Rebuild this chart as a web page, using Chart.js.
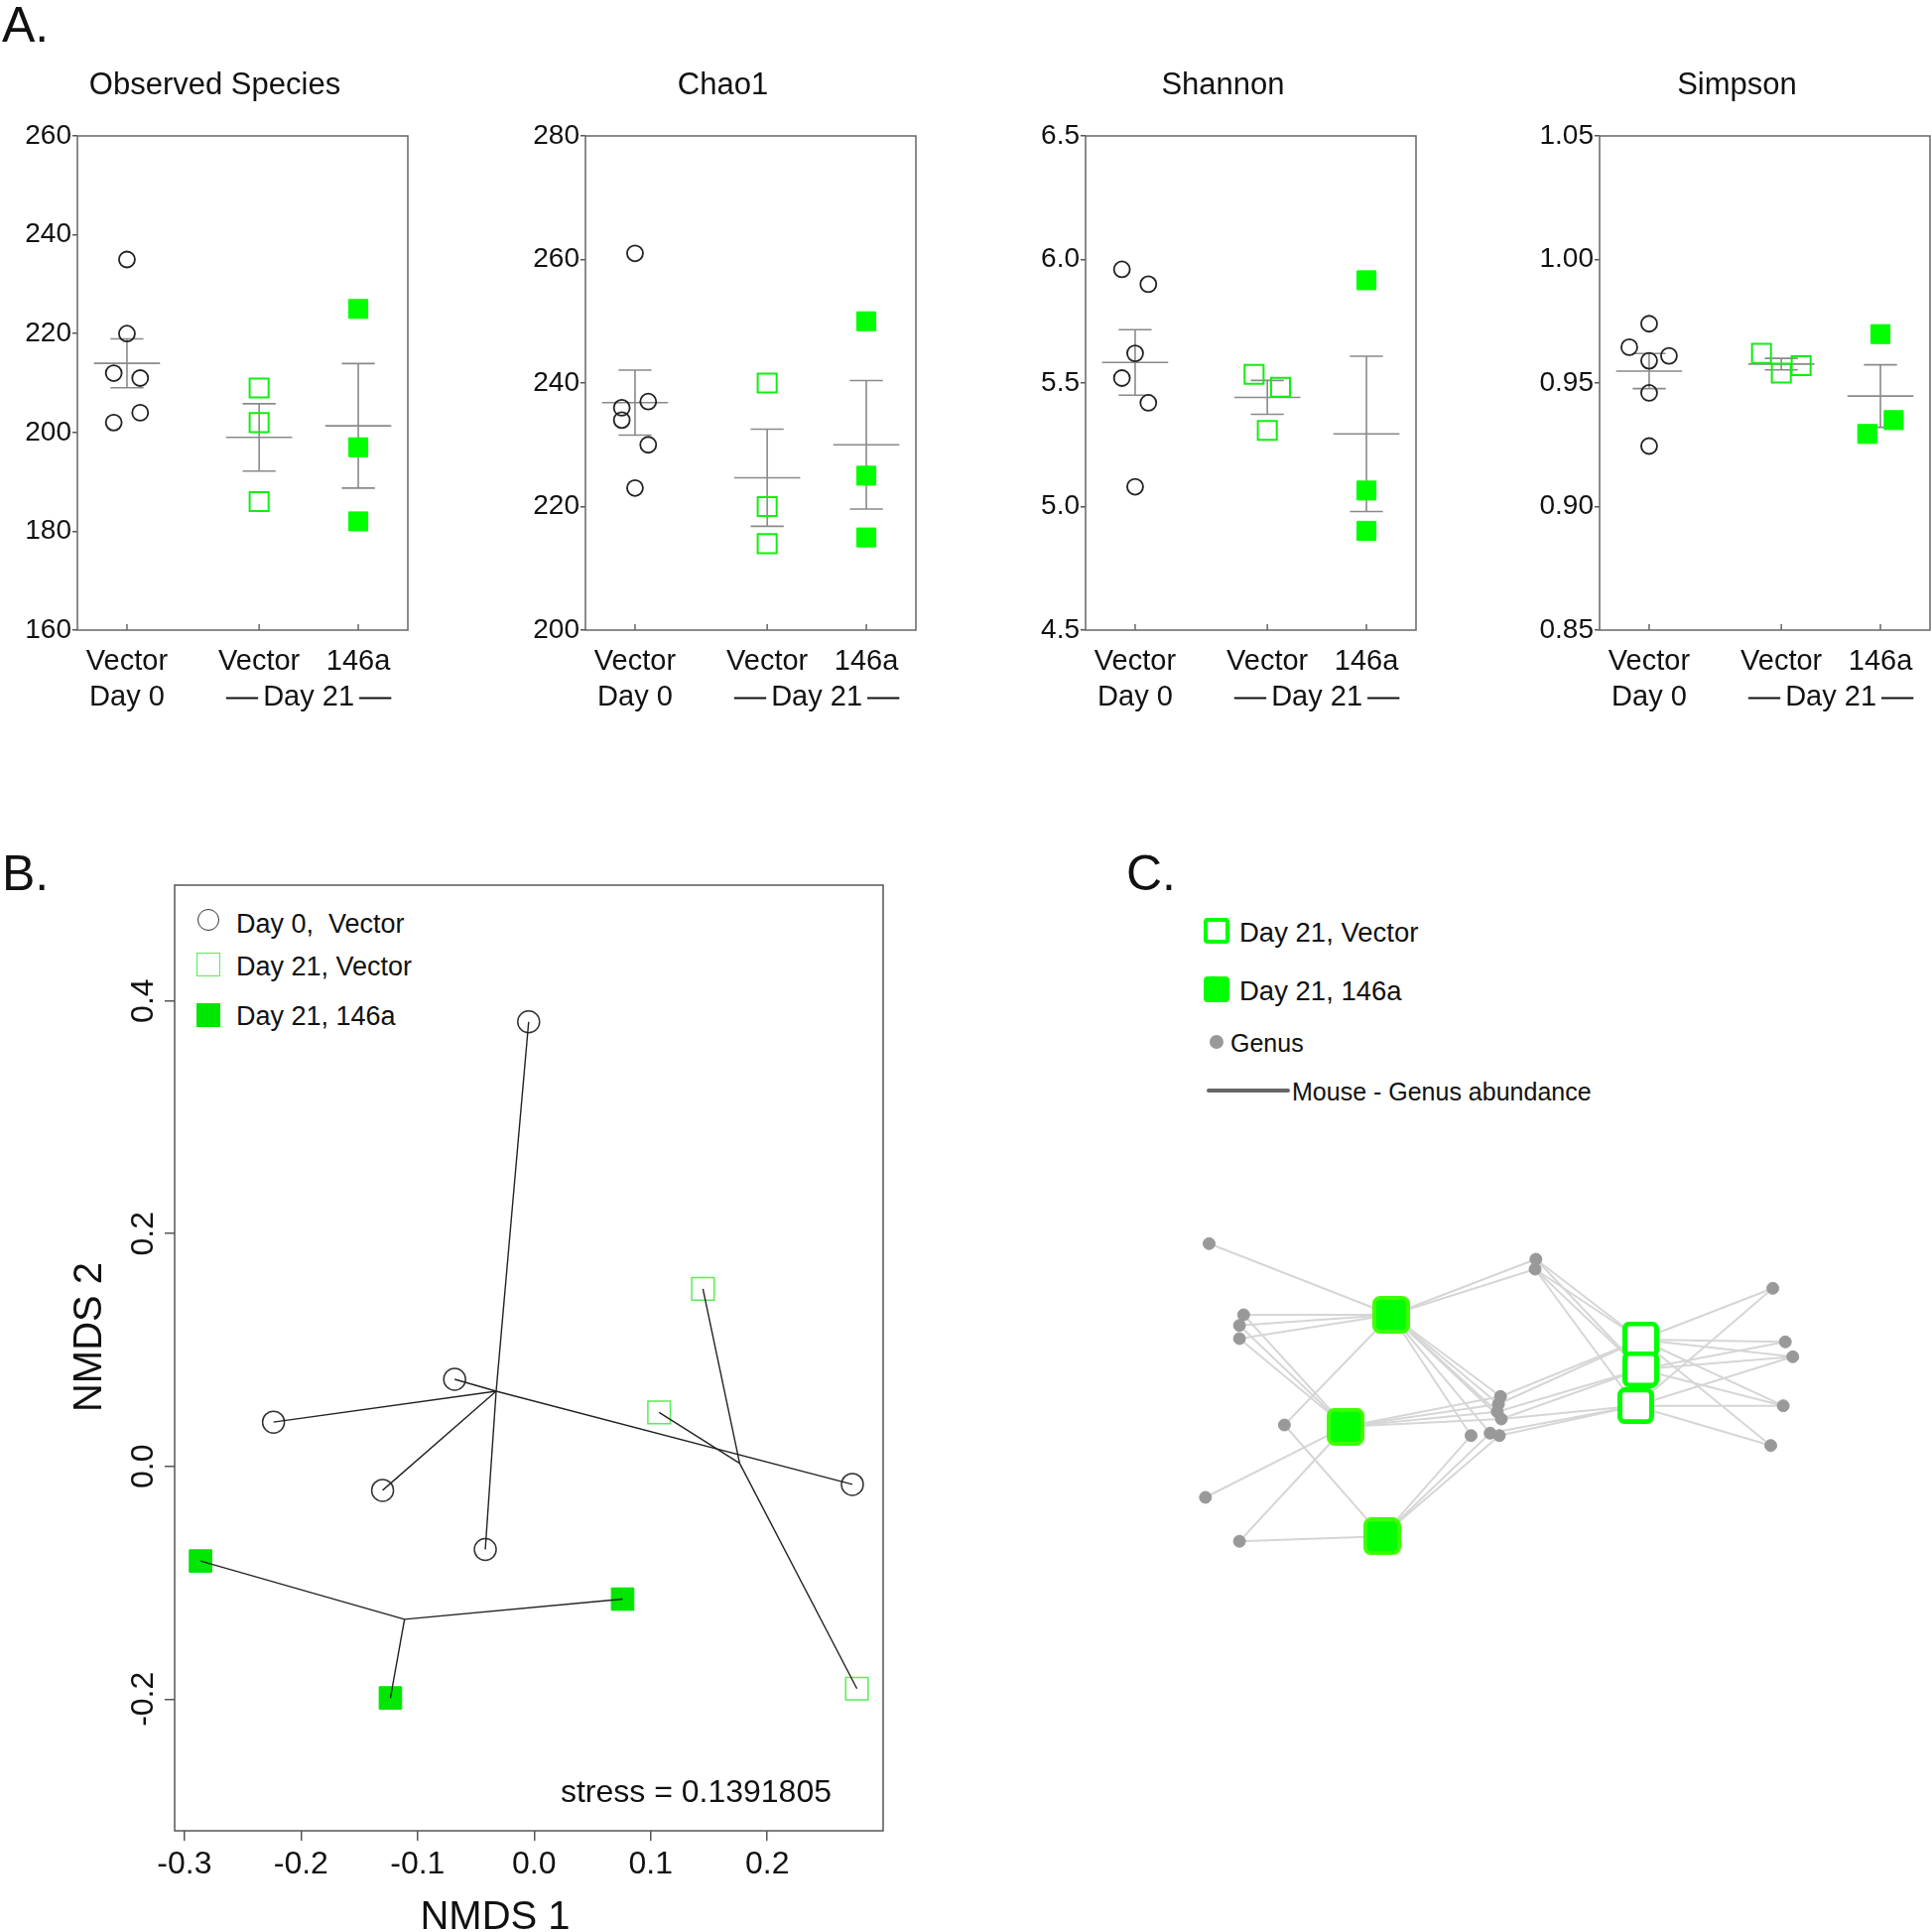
<!DOCTYPE html>
<html lang="en">
<head>
<meta charset="utf-8">
<title>Alpha diversity, NMDS and network</title>
<script src="https://cdn.jsdelivr.net/npm/chart.js@4.4.1/dist/chart.umd.min.js"></script>
<style>
  html, body { margin: 0; padding: 0; background: #fff; }
  #page { position: relative; width: 1946px; height: 1947px; overflow: hidden;
          font-family: "Liberation Sans", Arial, Helvetica, sans-serif; color: #111; }
  #page canvas { position: absolute; }
  .lbl { position: absolute; font-size: 50px; line-height: 50px; }
  .row { position: absolute; height: 40px; line-height: 40px; white-space: pre; }
  .sym { position: absolute; box-sizing: border-box; }
</style>
</head>
<body>
<div id="page">
  <div class="lbl" style="left:2px; top:0px">A.</div>
  <div class="lbl" style="left:2px; top:855px">B.</div>
  <div class="lbl" style="left:1135px; top:855px">C.</div>

  <!-- legend B -->
  <div class="sym" style="left:199px;top:916px;width:22px;height:22px;border:1.5px solid #333;border-radius:50%"></div>
  <div class="row" style="left:238px;top:911px;font-size:27px">Day 0,  Vector</div>
  <div class="sym" style="left:198px;top:960px;width:24px;height:24px;border:1.5px solid #55ee55"></div>
  <div class="row" style="left:238px;top:954px;font-size:27px">Day 21, Vector</div>
  <div class="sym" style="left:198px;top:1011px;width:24px;height:24px;background:#00e600"></div>
  <div class="row" style="left:238px;top:1004px;font-size:27px">Day 21, 146a</div>

  <!-- legend C -->
  <div class="sym" style="left:1213px;top:925px;width:26px;height:26px;border:4.5px solid #00ff00;border-radius:4px"></div>
  <div class="row" style="left:1249px;top:920px;font-size:27.5px">Day 21, Vector</div>
  <div class="sym" style="left:1213px;top:984px;width:26px;height:26px;background:#00ff00;border-radius:4px"></div>
  <div class="row" style="left:1249px;top:979px;font-size:27.5px">Day 21, 146a</div>
  <div class="sym" style="left:1219px;top:1043px;width:14px;height:14px;background:#999;border-radius:50%"></div>
  <div class="row" style="left:1240px;top:1031px;font-size:25px">Genus</div>
  <div class="sym" style="left:1216px;top:1097px;width:84px;height:4px;background:#666;border-radius:2px"></div>
  <div class="row" style="left:1302px;top:1080px;font-size:25px">Mouse - Genus abundance</div>
</div>

<script>
// ---------- panel A: alpha diversity ----------
const groupNames = [['Vector', 'Day 0'], ['Vector', ''], ['146a', '']];
const groupX = [3, 11, 17];

const observedDay0 = [235, 220, 212, 211, 204, 202];
const observedVector21 = [209, 202, 186];
const observed146a = [225, 197, 182];
const observedTicks = [160, 180, 200, 220, 240, 260];

const chao1Day0 = [261, 236, 237, 234, 230, 223];
const chao1Vector21 = [240, 220, 214];
const chao1146a = [250, 225, 215];
const chao1Ticks = [200, 220, 240, 260, 280];

const shannonDay0 = [5.96, 5.90, 5.62, 5.52, 5.42, 5.08];
const shannonVector21 = [5.535, 5.483, 5.308];
const shannon146a = [5.916, 5.065, 4.902];
const shannonTicks = [4.5, 5.0, 5.5, 6.0, 6.5];

const simpsonDay0 = [0.974, 0.9645, 0.961, 0.959, 0.946, 0.9245];
const simpsonVector21 = [0.962, 0.954, 0.957];
const simpson146a = [0.9698, 0.9294, 0.935];
const simpsonTicks = [0.85, 0.90, 0.95, 1.00, 1.05];

// sideways jitter of the dots, same order as the values
const observedJitter = [[0, 0, -0.8, 0.8, 0.8, -0.8], [0, 0, 0], [0, 0, 0]];
const chao1Jitter = [[0, -0.8, 0.8, -0.8, 0.8, 0], [0, 0, 0], [0, 0, 0]];
const shannonJitter = [[-0.8, 0.8, 0, -0.8, 0.8, 0], [-0.8, 0.8, 0], [0, 0, 0]];
const simpsonJitter = [[0, -1.2, 1.2, 0, 0, 0], [-1.2, 0, 1.2], [0, -0.8, 0.8]];

// ---------- panel B: NMDS ----------
const nmdsDay0X = [-0.0047, -0.0682, -0.2236, -0.130, 0.273, -0.0419];
const nmdsDay0Y = [0.382, 0.0748, 0.038, -0.0206, -0.0155, -0.0714];
const nmdsVectorX = [0.1448, 0.1072, 0.2769];
const nmdsVectorY = [0.1525, 0.0464, -0.191];
const nmds146aX = [-0.2862, 0.0759, -0.1233];
const nmds146aY = [-0.0813, -0.1141, -0.199];
const nmdsXTicks = [-0.3, -0.2, -0.1, 0.0, 0.1, 0.2];
const nmdsYTicks = [-0.2, 0.0, 0.2, 0.4];
const stressValue = '0.1391805';

// ---------- panel C: mouse - genus network (layout coordinates) ----------
const genusX = [38.5, 73.3, 69.1, 69.1, 114.4, 34.8, 69.1, 367.8, 367, 332.2, 330.1, 328.9, 333, 302.5, 321.7, 331, 606.6, 619.2, 626.7, 617.1, 604.5];
const genusY = [33.3, 105, 115.7, 129, 216, 289, 333.3, 49, 59, 187.3, 195, 202.7, 210, 226.7, 224.3, 226.7, 78.3, 132.3, 147.3, 196.7, 236.7];
const mouse146aX = [222, 176, 212.8];
const mouse146aY = [105, 217.7, 328.3];
const mouseVectorX = [473.4, 473.4, 468.4];
const mouseVectorY = [130, 160, 196.7];
// genus indices linked to each mouse
const links146a = [
  [0, 1, 2, 3, 4, 7, 8, 9, 10, 11, 12, 13, 14],
  [1, 2, 3, 5, 6, 9, 10, 11, 12],
  [4, 6, 13, 14, 15]
];
const linksVector = [
  [7, 8, 9, 10, 16, 17, 18, 19, 20],
  [7, 8, 11, 12, 17, 18, 19],
  [8, 12, 14, 15, 16, 18, 19, 20]
];

Chart.defaults.font.family = '"Liberation Sans", Arial, Helvetica, sans-serif';
Chart.defaults.color = '#111';
Chart.defaults.animation = false;
Chart.defaults.events = [];
Chart.defaults.layout.autoPadding = false;
Chart.defaults.plugins.legend.display = false;
Chart.defaults.plugins.tooltip.enabled = false;

const FONT = '"Liberation Sans", Arial, Helvetica, sans-serif';

function addCanvas(left, top, width, height) {
  const c = document.createElement('canvas');
  c.width = width; c.height = height;
  c.style.left = left + 'px'; c.style.top = top + 'px';
  c.style.width = width + 'px'; c.style.height = height + 'px';
  document.getElementById('page').appendChild(c);
  return c;
}

function meanSem(v) {
  const m = v.reduce((a, b) => a + b, 0) / v.length;
  const sd = Math.sqrt(v.reduce((a, b) => a + (b - m) * (b - m), 0) / (v.length - 1));
  return [m, sd / Math.sqrt(v.length)];
}

function seg(x0, y0, x1, y1, color, width) {
  return {
    data: [{ x: x0, y: y0 }, { x: x1, y: y1 }],
    showLine: true, borderColor: color, borderWidth: width,
    pointRadius: 0, fill: false, tension: 0
  };
}

function fixedTicks(list) {
  return s => { s.ticks = list.map(v => ({ value: v })); };
}

// ---------- panel A charts ----------
const alphaPanels = [
  { title: 'Observed Species', left: 78, ticks: observedTicks, digits: 0,
    groups: [observedDay0, observedVector21, observed146a], jitter: observedJitter },
  { title: 'Chao1', left: 590, ticks: chao1Ticks, digits: 0,
    groups: [chao1Day0, chao1Vector21, chao1146a], jitter: chao1Jitter },
  { title: 'Shannon', left: 1094, ticks: shannonTicks, digits: 1,
    groups: [shannonDay0, shannonVector21, shannon146a], jitter: shannonJitter },
  { title: 'Simpson', left: 1612, ticks: simpsonTicks, digits: 2,
    groups: [simpsonDay0, simpsonVector21, simpson146a], jitter: simpsonJitter }
];

const markerStyles = [
  { pointStyle: 'circle', pointRadius: 8, pointBorderColor: '#222', pointBackgroundColor: 'rgba(0,0,0,0)', pointBorderWidth: 1.8 },
  { pointStyle: 'rect', pointRadius: 13.5, pointBorderColor: '#11ee11', pointBackgroundColor: 'rgba(0,0,0,0)', pointBorderWidth: 2 },
  { pointStyle: 'rect', pointRadius: 13.5, pointBorderColor: '#00ff00', pointBackgroundColor: '#00ff00', pointBorderWidth: 1 }
];

const A_TOP = 40, A_PAD_TOP = 97, A_PLOT_H = 498, A_PLOT_W = 333, A_AXIS_W = 80, A_XAXIS_H = 90;
const A_LABEL_LH = 1.25, A_LABEL_PAD = 14, A_LABEL_SIZE = 29;

const alphaExtras = {
  id: 'alphaExtras',
  beforeDatasetsDraw(chart) {
    const { ctx, chartArea: a, scales: { x } } = chart;
    ctx.save();
    ctx.strokeStyle = '#666';
    ctx.lineWidth = 1.5;
    ctx.strokeRect(a.left, a.top, a.right - a.left, a.bottom - a.top);
    ctx.beginPath();
    groupX.forEach(v => {
      const px = x.getPixelForValue(v);
      ctx.moveTo(px, a.bottom);
      ctx.lineTo(px, a.bottom - 6);
    });
    ctx.stroke();
    ctx.restore();
  },
  afterDraw(chart, args, opts) {
    const { ctx, chartArea: a, scales: { x } } = chart;
    ctx.save();
    ctx.fillStyle = '#111';
    ctx.textAlign = 'center';
    ctx.textBaseline = 'middle';
    ctx.font = '31px ' + FONT;
    ctx.fillText(opts.title, (a.left + a.right) / 2 - 28, a.top - 51);

    // "—— Day 21 ——" under the two day-21 groups
    ctx.font = A_LABEL_SIZE + 'px ' + FONT;
    const yb = a.bottom + A_LABEL_PAD + A_LABEL_SIZE * A_LABEL_LH * 1.5;
    const cx = x.getPixelForValue((groupX[1] + groupX[2]) / 2);
    const tw = ctx.measureText('Day 21').width;
    ctx.fillText('Day 21', cx, yb);
    ctx.strokeStyle = '#111';
    ctx.lineWidth = 2;
    ctx.beginPath();
    ctx.moveTo(x.getPixelForValue(groupX[1] - 2), yb);
    ctx.lineTo(cx - tw / 2 - 5, yb);
    ctx.moveTo(cx + tw / 2 + 5, yb);
    ctx.lineTo(x.getPixelForValue(groupX[2] + 2), yb);
    ctx.stroke();
    ctx.restore();
  }
};

alphaPanels.forEach(p => {
  const canvas = addCanvas(p.left - A_AXIS_W, A_TOP, A_AXIS_W + A_PLOT_W + 1, A_PAD_TOP + A_PLOT_H + A_XAXIS_H);
  const datasets = [];
  p.groups.forEach((vals, g) => {
    datasets.push(Object.assign({
      data: vals.map((v, i) => ({ x: groupX[g] + p.jitter[g][i], y: v })),
      showLine: false
    }, markerStyles[g]));
  });
  p.groups.forEach((vals, g) => {
    const [m, se] = meanSem(vals);
    const gx = groupX[g];
    datasets.push(seg(gx - 2, m, gx + 2, m, '#8a8a8a', 1.6));
    datasets.push(seg(gx, m - se, gx, m + se, '#8a8a8a', 1.6));
    datasets.push(seg(gx - 1, m + se, gx + 1, m + se, '#8a8a8a', 1.6));
    datasets.push(seg(gx - 1, m - se, gx + 1, m - se, '#8a8a8a', 1.6));
  });

  new Chart(canvas, {
    type: 'scatter',
    data: { datasets: datasets },
    options: {
      responsive: false,
      layout: { autoPadding: false, padding: { top: A_PAD_TOP, left: 0, right: 1, bottom: 0 } },
      scales: {
        x: {
          type: 'linear', min: 0, max: 20,
          afterBuildTicks: fixedTicks(groupX),
          afterFit: s => { s.height = A_XAXIS_H; s.paddingLeft = 0; s.paddingRight = 0; },
          border: { display: false },
          grid: { display: false, drawTicks: false },
          ticks: {
            autoSkip: false, maxRotation: 0, minRotation: 0, padding: A_LABEL_PAD, color: '#111',
            font: { size: A_LABEL_SIZE, lineHeight: A_LABEL_LH },
            callback: (v, i) => groupNames[i]
          }
        },
        y: {
          type: 'linear', min: p.ticks[0], max: p.ticks[p.ticks.length - 1],
          afterBuildTicks: fixedTicks(p.ticks),
          afterFit: s => { s.width = A_AXIS_W; },
          border: { display: false },
          grid: { drawOnChartArea: false, drawTicks: true, tickLength: 5, color: '#555', lineWidth: 1.5 },
          ticks: { padding: 1, color: '#111', font: { size: 28 }, callback: v => v.toFixed(p.digits) }
        }
      },
      plugins: { alphaExtras: { title: p.title } }
    },
    plugins: [alphaExtras]
  });
});

// ---------- panel B chart ----------
const B_LEFT = 0, B_TOP = 850, B_W = 930, B_H = 1097;

const nmdsExtras = {
  id: 'nmdsExtras',
  beforeDatasetsDraw(chart) {
    const { ctx, chartArea: a } = chart;
    ctx.save();
    ctx.strokeStyle = '#555';
    ctx.lineWidth = 1.5;
    ctx.strokeRect(a.left, a.top, a.right - a.left, a.bottom - a.top);
    ctx.restore();
  },
  afterDraw(chart) {
    const { ctx, chartArea: a, scales: { y } } = chart;
    ctx.save();
    ctx.fillStyle = '#111';
    ctx.textAlign = 'center';
    ctx.textBaseline = 'middle';
    ctx.font = '32px ' + FONT;
    nmdsYTicks.forEach(v => {
      ctx.save();
      ctx.translate(a.left - 31, y.getPixelForValue(v));
      ctx.rotate(-Math.PI / 2);
      ctx.fillText(v.toFixed(1), 0, 0);
      ctx.restore();
    });
    ctx.font = '40px ' + FONT;
    ctx.save();
    ctx.translate(91, (a.top + a.bottom) / 2 - 21);
    ctx.rotate(-Math.PI / 2);
    ctx.fillText('NMDS 2', 0, 0);
    ctx.restore();
    ctx.textBaseline = 'alphabetic';
    ctx.fillText('NMDS 1', (a.left + a.right) / 2 - 34, B_H - 3);
    ctx.font = '32px ' + FONT;
    ctx.textAlign = 'right';
    ctx.textBaseline = 'middle';
    ctx.fillText('stress = ' + stressValue, a.right - 52, a.bottom - 38);
    ctx.restore();
  }
};

const nmdsGroups = [
  { xs: nmdsDay0X, ys: nmdsDay0Y, style: { pointStyle: 'circle', pointRadius: 11, pointBorderColor: '#333', pointBackgroundColor: 'rgba(0,0,0,0)', pointBorderWidth: 1.5 } },
  { xs: nmdsVectorX, ys: nmdsVectorY, style: { pointStyle: 'rect', pointRadius: 16, pointBorderColor: '#55ee55', pointBackgroundColor: 'rgba(0,0,0,0)', pointBorderWidth: 1.5 } },
  { xs: nmds146aX, ys: nmds146aY, style: { pointStyle: 'rect', pointRadius: 16, pointBorderColor: '#00e600', pointBackgroundColor: '#00e600', pointBorderWidth: 1 } }
];

const nmdsSets = [];
// spider lines from each group centroid (drawn on top, like ordispider)
nmdsGroups.forEach(g => {
  const cx = g.xs.reduce((a, b) => a + b, 0) / g.xs.length;
  const cy = g.ys.reduce((a, b) => a + b, 0) / g.ys.length;
  g.xs.forEach((vx, i) => nmdsSets.push(seg(cx, cy, vx, g.ys[i], '#222', 1.4)));
});
nmdsGroups.forEach(g => {
  nmdsSets.push(Object.assign({
    data: g.xs.map((vx, i) => ({ x: vx, y: g.ys[i] })),
    showLine: false
  }, g.style));
});

new Chart(addCanvas(B_LEFT, B_TOP, B_W, B_H), {
  type: 'scatter',
  data: { datasets: nmdsSets },
  options: {
    responsive: false,
    layout: { autoPadding: false, padding: { top: 42, left: 0, right: 40, bottom: 0 } },
    scales: {
      x: {
        type: 'linear', min: -0.3084, max: 0.2994,
        afterBuildTicks: fixedTicks(nmdsXTicks),
        afterFit: s => { s.height = 102; s.paddingLeft = 0; s.paddingRight = 0; },
        border: { display: false },
        grid: { drawOnChartArea: false, drawTicks: true, tickLength: 10, color: '#555', lineWidth: 1.5 },
        ticks: { autoSkip: false, maxRotation: 0, padding: 5, color: '#111', font: { size: 32 }, callback: v => v.toFixed(1) }
      },
      y: {
        type: 'linear', min: -0.3132, max: 0.4995,
        afterBuildTicks: fixedTicks(nmdsYTicks),
        afterFit: s => { s.width = 176; },
        border: { display: false },
        grid: { drawOnChartArea: false, drawTicks: true, tickLength: 10, color: '#555', lineWidth: 1.5 },
        ticks: { display: false }
      }
    }
  },
  plugins: [nmdsExtras]
});

// ---------- panel C network ----------
function roundSquare(size, fill, stroke, lw, r) {
  const c = document.createElement('canvas');
  c.width = size; c.height = size;
  const g = c.getContext('2d');
  g.beginPath();
  g.roundRect(lw / 2, lw / 2, size - lw, size - lw, r);
  g.fillStyle = fill;
  g.fill();
  g.lineWidth = lw;
  g.strokeStyle = stroke;
  g.stroke();
  return c;
}
const filledMouse = roundSquare(38, '#00ff00', '#3cff00', 4, 6);
const openMouse = roundSquare(37, '#ffffff', '#00ff00', 5, 5);

const netSets = [
  { data: mouseVectorX.map((v, i) => ({ x: v, y: mouseVectorY[i] })), showLine: false, pointStyle: openMouse, pointRadius: 18 },
  { data: mouse146aX.map((v, i) => ({ x: v, y: mouse146aY[i] })), showLine: false, pointStyle: filledMouse, pointRadius: 18 },
  { data: genusX.map((v, i) => ({ x: v, y: genusY[i] })), showLine: false, pointStyle: 'circle', pointRadius: 6,
    pointBackgroundColor: '#999', pointBorderColor: '#999', pointBorderWidth: 1 }
];
links146a.forEach((list, m) => list.forEach(gi =>
  netSets.push(seg(mouse146aX[m], mouse146aY[m], genusX[gi], genusY[gi], '#d6d6d6', 2))));
linksVector.forEach((list, m) => list.forEach(gi =>
  netSets.push(seg(mouseVectorX[m], mouseVectorY[m], genusX[gi], genusY[gi], '#d6d6d6', 2))));

new Chart(addCanvas(1180, 1220, 670, 380), {
  type: 'scatter',
  data: { datasets: netSets },
  options: {
    responsive: false,
    layout: { autoPadding: false, padding: 0 },
    scales: {
      x: { type: 'linear', min: 0, max: 670, display: false },
      y: { type: 'linear', min: 0, max: 380, reverse: true, display: false }
    }
  }
});
</script>
</body>
</html>
